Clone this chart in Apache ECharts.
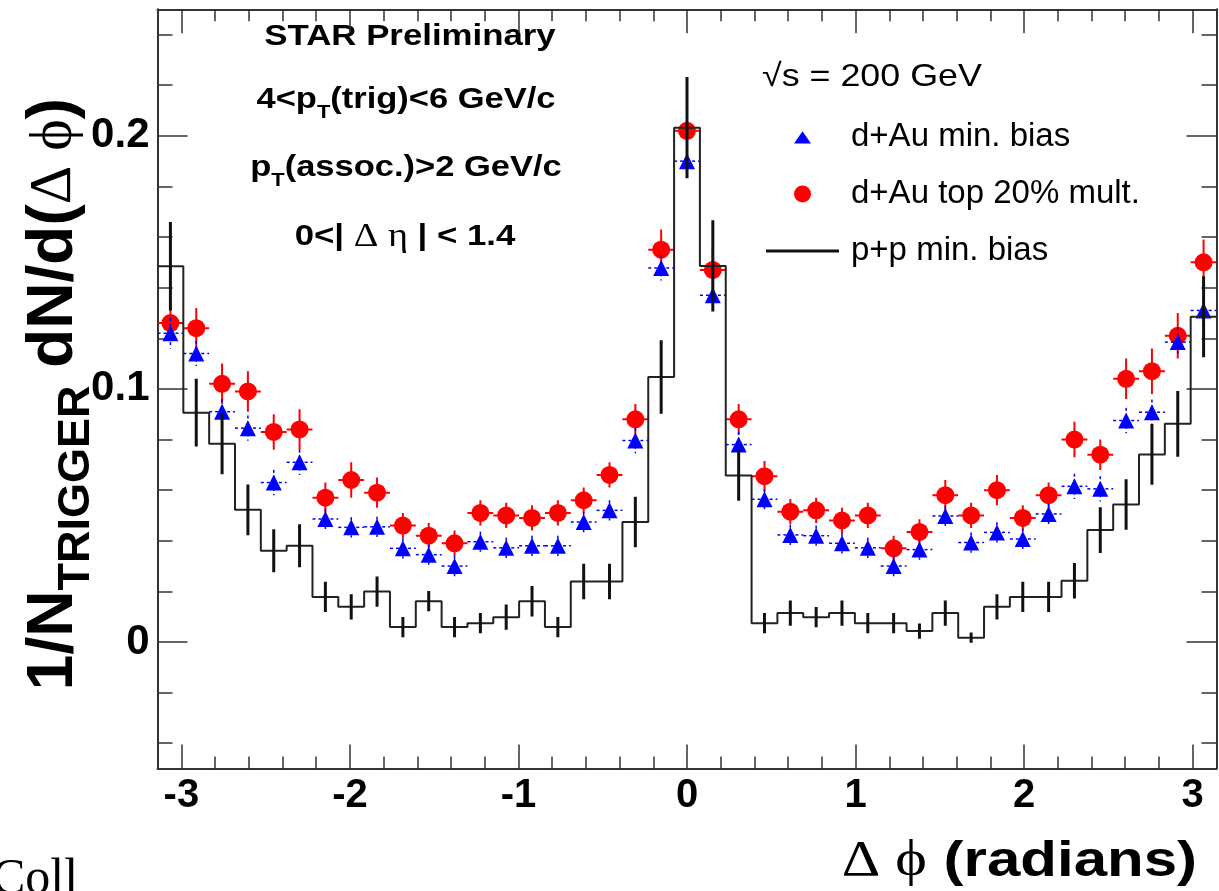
<!DOCTYPE html>
<html>
<head>
<meta charset="utf-8">
<script src="https://cdn.jsdelivr.net/npm/echarts@6/dist/echarts.min.js"></script>
<style>
html,body{margin:0;padding:0;background:#ffffff;overflow:hidden}
#chart{width:1219px;height:891px}
</style>
</head>
<body>
<div id="chart"></div>
<script>
// ---- histogram definition: 41 bins over [-pi, pi], bin index -20..20 ----
const binIndex = [-20,-19,-18,-17,-16,-15,-14,-13,-12,-11,-10,-9,-8,-7,-6,-5,-4,-3,-2,-1,0,
                  1,2,3,4,5,6,7,8,9,10,11,12,13,14,15,16,17,18,19,20];

// ---- d+Au top 20% mult. (red circles) ----
const dAuTop20 = [0.126,0.124,0.102,0.099,0.083,0.084,0.057,0.064,0.059,0.046,0.042,
                  0.039,0.051,0.050,0.049,0.051,0.056,0.066,0.088,0.155,0.202,
                  0.147,0.088,0.0655,0.0515,0.052,0.048,0.050,0.037,0.0435,0.058,
                  0.050,0.060,0.049,0.058,0.080,0.074,0.104,0.107,0.121,0.150];
const dAuTop20Err = [0.007,0.008,0.008,0.008,0.007,0.008,0.006,0.007,0.006,0.005,0.005,
                     0.005,0.005,0.005,0.005,0.005,0.005,0.005,0.006,0.008,0.012,
                     0.009,0.006,0.006,0.005,0.005,0.005,0.005,0.005,0.005,0.006,
                     0.005,0.006,0.005,0.005,0.007,0.006,0.008,0.009,0.009,0.009];

// ---- d+Au min. bias (blue triangles) ----
const dAuMinBias = [0.122,0.114,0.091,0.0845,0.063,0.071,0.0486,0.0453,0.0455,0.037,0.0345,
                    0.030,0.0396,0.0372,0.038,0.038,0.0474,0.052,0.0796,0.1478,0.190,
                    0.137,0.078,0.0564,0.0423,0.042,0.039,0.0372,0.030,0.0365,0.0498,
                    0.0393,0.0433,0.0407,0.0506,0.0615,0.0605,0.0875,0.0908,0.1185,0.131];
const dAuMinBiasErr = [0.006,0.005,0.005,0.005,0.005,0.005,0.004,0.004,0.004,0.004,0.004,
                       0.004,0.004,0.004,0.004,0.004,0.004,0.004,0.005,0.005,0.007,
                       0.006,0.005,0.004,0.004,0.004,0.004,0.004,0.004,0.004,0.004,
                       0.004,0.004,0.004,0.004,0.005,0.005,0.005,0.005,0.006,0.006];

// ---- p+p min. bias (black histogram) ----
const ppMinBias = [0.1485,0.0906,0.0783,0.0522,0.036,0.038,0.0178,0.0139,0.0199,0.0059,0.0161,
                   0.0059,0.0074,0.0098,0.0161,0.0059,0.0239,0.0239,0.0474,0.1047,0.2032,
                   0.1486,0.0658,0.0074,0.0114,0.0098,0.0114,0.0074,0.0074,0.0043,0.0114,
                   0.0017,0.0139,0.0178,0.0178,0.0242,0.0442,0.0543,0.0741,0.0862,0.1285];
const ppMinBiasErr = [0.0175,0.0134,0.012,0.010,0.0085,0.0085,0.006,0.005,0.006,0.004,0.004,
                      0.004,0.004,0.005,0.006,0.004,0.007,0.007,0.010,0.0145,0.020,
                      0.018,0.010,0.004,0.005,0.004,0.005,0.004,0.004,0.003,0.005,
                      0.002,0.005,0.006,0.006,0.007,0.009,0.010,0.012,0.013,0.016];

// ---- tick labels ----
const xMajorTicks = [-3,-2,-1,0,1,2,3];
const xMinorTicks = [-2.8,-2.6,-2.4,-2.2,-1.8,-1.6,-1.4,-1.2,-0.8,-0.6,-0.4,-0.2,
                     0.2,0.4,0.6,0.8,1.2,1.4,1.6,1.8,2.2,2.4,2.6,2.8];
const yMajorTicks = [0,0.1,0.2];
const yMinorTicks = [-0.04,-0.02,0.02,0.04,0.06,0.08,0.12,0.14,0.16,0.18,0.22,0.24];

// ---- derived ----
const PI = Math.PI;
const binW = 2*PI/binIndex.length;
const centers = binIndex.map(k => k*binW);
const redData = centers.map((x,i) => [x, dAuTop20[i], dAuTop20Err[i]]);
const blueData = centers.map((x,i) => [x, dAuMinBias[i], dAuMinBiasErr[i]]);
const ppErrData = centers.map((x,i) => [x, ppMinBias[i], ppMinBiasErr[i]]);
const ppStep = [[-PI, ppMinBias[0]]].concat(centers.map((x,i)=>[x, ppMinBias[i]]), [[PI, ppMinBias[ppMinBias.length-1]]]);

const SANS = "'Liberation Sans', Arial, Helvetica, sans-serif";
const SERIF = "'Liberation Serif', 'Times New Roman', serif";

function errRender(color, width, dash, horiz) {
  return function (params, api) {
    const x = api.value(0), y = api.value(1), e = api.value(2);
    const t = api.coord([x, y + e]), b = api.coord([x, y - e]);
    const children = [{
      type: 'line',
      shape: {x1: t[0], y1: t[1], x2: b[0], y2: b[1]},
      style: {stroke: color, lineWidth: width, lineDash: dash}
    }];
    if (horiz) {
      const l = api.coord([x - binW/2, y]), r = api.coord([x + binW/2, y]);
      children.push({
        type: 'line',
        shape: {x1: l[0], y1: l[1], x2: r[0], y2: r[1]},
        style: {stroke: color, lineWidth: width, lineDash: dash}
      });
    }
    return {type: 'group', children: children};
  };
}

const axisCol = '#333333';
function xAx(pos, ticks, len, showLine, showLabel) {
  return {
    type: 'value', position: pos, min: -PI, max: PI,
    axisLine: {show: showLine, onZero: false, lineStyle: {color: axisCol, width: 2}},
    axisTick: {show: true, inside: true, length: len, customValues: ticks, lineStyle: {color: axisCol, width: 1.5}},
    axisLabel: {show: showLabel, customValues: xMajorTicks, margin: 7, fontSize: 40, fontWeight: 'bold',
                fontFamily: SANS, color: '#000'},
    splitLine: {show: false}, minorTick: {show: false}
  };
}
function yAx(pos, ticks, len, showLine, showLabel) {
  return {
    type: 'value', position: pos, min: -0.05, max: 0.25,
    axisLine: {show: showLine, onZero: false, lineStyle: {color: axisCol, width: 2}},
    axisTick: {show: true, inside: true, length: len, customValues: ticks, lineStyle: {color: axisCol, width: 1.5}},
    axisLabel: {show: showLabel, customValues: yMajorTicks, margin: 8, fontSize: 42, fontWeight: 'bold',
                fontFamily: SANS, color: '#000'},
    splitLine: {show: false}, minorTick: {show: false}
  };
}

const chart = echarts.init(document.getElementById('chart'), null, {renderer: 'canvas'});
chart.setOption({
  animation: false,
  backgroundColor: '#ffffff',
  grid: {left: 157.5, right: 2.5, top: 9.3, bottom: 122.5, containLabel: false, outerBoundsMode: 'none'},
  xAxis: [
    xAx('bottom', xMajorTicks, 24, true, true),
    xAx('bottom', xMinorTicks, 12, false, false),
    xAx('top', xMajorTicks, 24, true, false),
    xAx('top', xMinorTicks, 12, false, false)
  ],
  yAxis: [
    yAx('left', yMajorTicks, 30, true, true),
    yAx('left', yMinorTicks, 15, false, false),
    yAx('right', yMajorTicks, 30, true, false),
    yAx('right', yMinorTicks, 15, false, false)
  ],
  legend: {
    orient: 'vertical', left: 766, top: 120, padding: 0,
    itemWidth: 73, itemHeight: 17, itemGap: 23, symbolKeepAspect: true,
    textStyle: {fontSize: 33, fontFamily: SANS, color: '#000', lineHeight: 34, padding: [0,0,0,7]},
    data: [
      {name: 'd+Au min. bias', icon: 'path://M0,0 M100,100 M50,16 L100,88 L0,88 Z', itemStyle: {color: '#0000ff', opacity: 1}},
      {name: 'd+Au top 20% mult.', icon: 'circle', itemStyle: {color: '#ff0000', opacity: 1}},
      {name: 'p+p min. bias', icon: 'path://M0,0 L100,0 L100,4 L0,4 Z', itemStyle: {color: '#111111', opacity: 1}}
    ]
  },
  series: [
    {
      type: 'custom', name: 'redErr', xAxisIndex: 0, yAxisIndex: 0, z: 2, clip: true,
      renderItem: errRender('#ff0000', 2, null, true),
      encode: {x: 0, y: 1}, data: redData, silent: true
    },
    {
      type: 'scatter', name: 'd+Au top 20% mult.', xAxisIndex: 0, yAxisIndex: 0, z: 3,
      symbol: 'circle', symbolSize: 18, itemStyle: {color: '#ff0000', opacity: 1},
      data: redData.map(d => [d[0], d[1]])
    },
    {
      type: 'custom', name: 'blueErr', xAxisIndex: 0, yAxisIndex: 0, z: 4, clip: true,
      renderItem: errRender('#0000ff', 1.5, [3, 3], true),
      encode: {x: 0, y: 1}, data: blueData, silent: true
    },
    {
      type: 'scatter', name: 'd+Au min. bias', xAxisIndex: 0, yAxisIndex: 0, z: 5,
      symbol: 'triangle', symbolSize: 16, itemStyle: {color: '#0000ff', opacity: 1},
      data: blueData.map(d => [d[0], d[1]])
    },
    {
      type: 'line', name: 'p+p min. bias', xAxisIndex: 0, yAxisIndex: 0, z: 6,
      step: 'middle', symbol: 'none', showSymbol: false,
      lineStyle: {color: '#222222', width: 2}, itemStyle: {color: '#222222'},
      data: ppStep
    },
    {
      type: 'custom', name: 'ppErr', xAxisIndex: 0, yAxisIndex: 0, z: 7, clip: true,
      renderItem: errRender('#111111', 3, null, false),
      encode: {x: 0, y: 1}, data: ppErrData, silent: true
    }
  ],
  graphic: [
    {type: 'text', x: 410, y: 37, scaleX: 1.16, style: {text: 'STAR Preliminary', fontSize: 30, fontWeight: 'bold',
      fontFamily: SANS, fill: '#000', align: 'center', verticalAlign: 'middle'}},
    {type: 'text', x: 406, y: 100, scaleX: 1.15, style: {
      text: '4<p{s|T}(trig)<6 GeV/c', fontSize: 30, fontWeight: 'bold', fontFamily: SANS, fill: '#000',
      align: 'center', verticalAlign: 'middle',
      rich: {s: {fontSize: 19, fontWeight: 'bold', fontFamily: SANS, padding: [26, 0, 0, 0]}}}},
    {type: 'text', x: 406, y: 168, scaleX: 1.15, style: {
      text: 'p{s|T}(assoc.)>2 GeV/c', fontSize: 30, fontWeight: 'bold', fontFamily: SANS, fill: '#000',
      align: 'center', verticalAlign: 'middle',
      rich: {s: {fontSize: 19, fontWeight: 'bold', fontFamily: SANS, padding: [26, 0, 0, 0]}}}},
    {type: 'text', x: 405, y: 237, scaleX: 1.16, style: {
      text: '0<| {g|Δ η} | < 1.4', fontSize: 30, fontWeight: 'bold', fontFamily: SANS, fill: '#000',
      align: 'center', verticalAlign: 'middle',
      rich: {g: {fontSize: 33, fontWeight: 'normal', fontFamily: SERIF}}}},
    {type: 'text', x: 762, y: 77, scaleX: 1.12, style: {text: '√s = 200 GeV', fontSize: 32,
      fontFamily: SANS, fill: '#000', align: 'left', verticalAlign: 'middle'}},
    {type: 'text', x: 1197, y: 862, scaleX: 1.2, style: {
      text: '{g|Δ ϕ} (radians)', fontSize: 50, fontWeight: 'bold', fontFamily: SANS, fill: '#000',
      align: 'right', verticalAlign: 'middle',
      rich: {g: {fontSize: 50, fontWeight: 'normal', fontFamily: SERIF}}}},
    {type: 'text', x: 54, y: 394, rotation: Math.PI/2, style: {
      text: '1/N{s|TRIGGER} dN/d({g|Δ ϕ})', fontSize: 64, fontWeight: 'bold', fontFamily: SANS, fill: '#000',
      align: 'center', verticalAlign: 'middle',
      rich: {s: {fontSize: 45, fontWeight: 'bold', fontFamily: SANS, padding: [46, 0, 0, 0]},
             g: {fontSize: 60, fontWeight: 'normal', fontFamily: SERIF}}}},
    {type: 'text', x: -8, y: 905, style: {text: 'Coll', fontSize: 50, fontFamily: SERIF, fill: '#000',
      align: 'left', verticalAlign: 'bottom'}}
  ]
});
</script>
</body>
</html>
